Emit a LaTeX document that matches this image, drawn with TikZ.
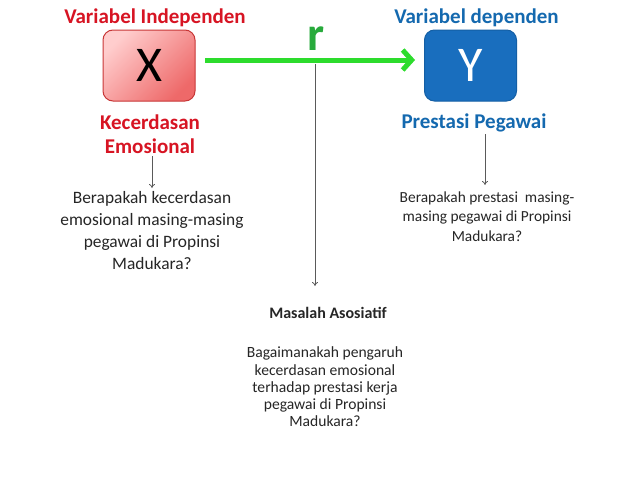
\documentclass[tikz,border=0pt]{standalone}
\usepackage{fontspec}
\setmainfont{Carlito}
\usetikzlibrary{arrows.meta,positioning}
\definecolor{redtxt}{RGB}{215,20,35}
\definecolor{bluetxt}{RGB}{20,105,175}
\definecolor{boxblue}{RGB}{25,110,190}
\definecolor{boxblueb}{RGB}{20,95,165}
\definecolor{pinkA}{RGB}{255,205,205}
\definecolor{pinkB}{RGB}{238,105,105}
\definecolor{pinkborder}{RGB}{200,55,55}
\definecolor{arrgreen}{RGB}{45,220,45}
\definecolor{rgreen}{RGB}{40,170,60}
\definecolor{linegray}{RGB}{90,90,90}
\tikzset{
  headred/.style={font=\fontsize{21}{24}\selectfont\bfseries, text=redtxt, align=center, inner sep=0pt},
  headblue/.style={font=\fontsize{21}{24}\selectfont\bfseries, text=bluetxt, align=center, inner sep=0pt},
  varbox/.style={minimum width=92pt, minimum height=71pt, rounded corners=10pt, font=\fontsize{50}{50}\selectfont, inner sep=0pt},
  question/.style={align=center, text=black!85},
  thin arrow/.style={draw=linegray, line width=0.8pt, -{To[length=4pt,width=6pt]}}
}
\begin{document}
\begin{tikzpicture}[x=1pt,y=-1pt]
\useasboundingbox (0,0) rectangle (638,479);
\fill[white] (0,0) rectangle (638,479);
% headings
\node[headred] (vi) at (155,18) {Variabel Independen};
\node[headblue] (vd) at (476.5,18) {Variabel dependen};
% boxes
\node[varbox, draw=pinkborder, line width=1pt, top color=pinkA, bottom color=pinkB, shading angle=45] (X) at (149,65.5) {X};
\node[varbox, draw=boxblueb, line width=1pt, fill=boxblue, text=white] (Y) at (470.5,65.5) {Y};
% green arrow
\coordinate (gs) at (205,60);
\coordinate (ge) at (415,60);
\draw[draw=arrgreen, line width=5pt, -{Straight Barb[length=9pt,width=20pt,line width=5pt]}] (gs) -- (ge);
\node[font=\fontsize{48}{48}\selectfont\bfseries, text=rgreen] (r) at (316,39) {r};
% labels below
\node[headred, font=\fontsize{21}{24}\selectfont\bfseries] (ke) at (150,134) {Kecerdasan\\Emosional};
\node[headblue] (pp) at (474,123) {Prestasi Pegawai};
% question texts
\node[question, font=\fontsize{17.4}{21.7}\selectfont] (ql) at (152,230.5) {Berapakah kecerdasan\\emosional masing-masing\\pegawai di Propinsi\\Madukara?};
\node[question, font=\fontsize{15.4}{19.5}\selectfont] (qr) at (487,216.5) {Berapakah prestasi\ \ masing-\\masing pegawai di Propinsi\\Madukara?};
\node[font=\fontsize{16}{18}\selectfont\bfseries, text=black!85] (ma) at (328,313) {Masalah Asosiatif};
\node[question, font=\fontsize{15.6}{17.3}\selectfont] (qm) at (325,387) {Bagaimanakah pengaruh\\kecerdasan emosional\\terhadap prestasi kerja\\pegawai di Propinsi\\Madukara?};
% connectors
\coordinate (mtop) at (315,64);
\coordinate (mbot) at (315,286);
\coordinate (ls) at (152,156);
\coordinate (le) at (152,188);
\coordinate (rs) at (485,134);
\coordinate (re) at (485,185);
\draw[thin arrow] (mtop) -- (mbot);
\draw[thin arrow] (ls) -- (le);
\draw[thin arrow] (rs) -- (re);
\end{tikzpicture}
\end{document}
